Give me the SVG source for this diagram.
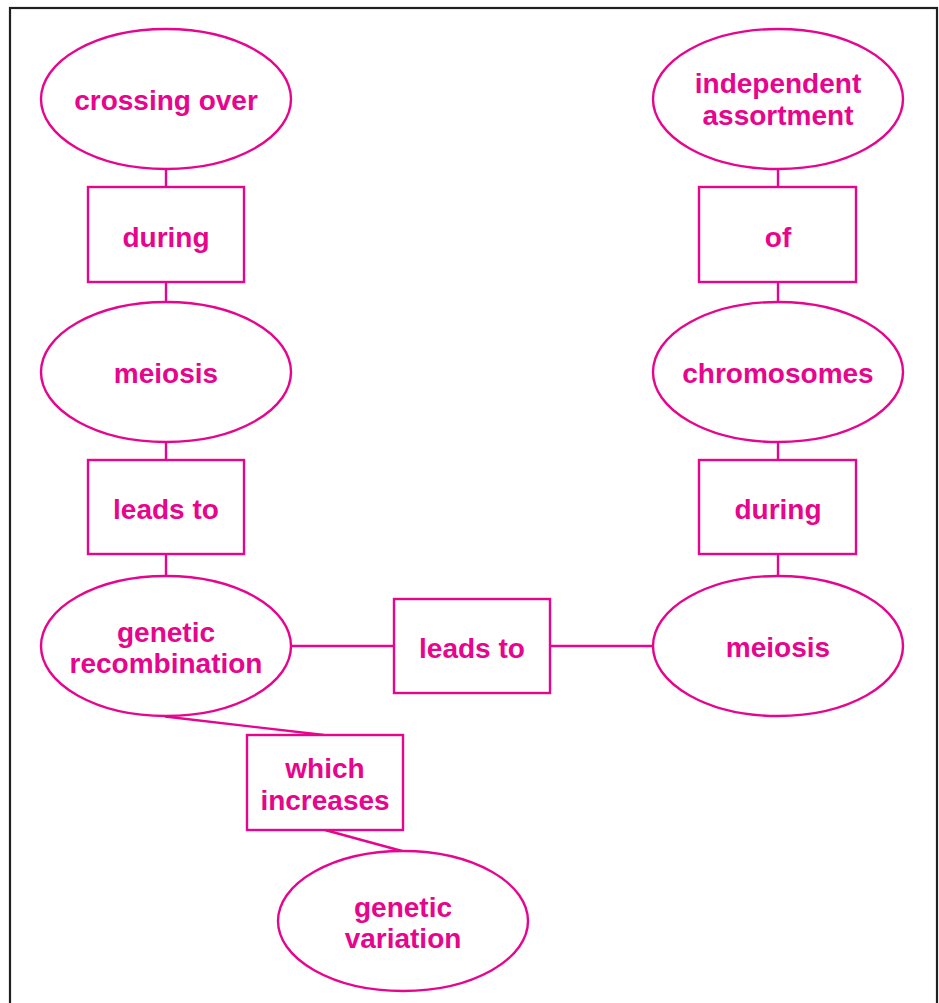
<svg xmlns="http://www.w3.org/2000/svg" width="939" height="1003" viewBox="0 0 939 1003">
<style>
.n{fill:#fff;stroke:#e6058c;stroke-width:2.4}
.t{font-family:"Liberation Sans",Arial,sans-serif;font-weight:bold;font-size:28px;fill:#e6058c;text-anchor:middle}
.c{stroke:#e6058c;stroke-width:2.4;fill:none}
</style>
<rect x="0" y="0" width="939" height="1003" fill="#fff"/>
<rect x="10" y="8" width="927" height="1010" fill="none" stroke="#231f20" stroke-width="2.2"/>
<g id="connectors">
<line class="c" x1="166" y1="169" x2="166" y2="187"/>
<line class="c" x1="166" y1="282" x2="166" y2="302"/>
<line class="c" x1="166" y1="442" x2="166" y2="460"/>
<line class="c" x1="166" y1="554" x2="166" y2="577"/>
<line class="c" x1="778" y1="169" x2="778" y2="187"/>
<line class="c" x1="778" y1="282" x2="778" y2="302"/>
<line class="c" x1="778" y1="442" x2="778" y2="460"/>
<line class="c" x1="778" y1="554" x2="778" y2="576"/>
<line class="c" x1="291" y1="646" x2="394" y2="646"/>
<line class="c" x1="550" y1="646" x2="653" y2="646"/>
<line class="c" x1="165" y1="716.5" x2="324" y2="735"/>
<line class="c" x1="325" y1="830" x2="402" y2="851"/>
</g>
<g id="crossing-over"><ellipse class="n" cx="166" cy="99" rx="125" ry="70"/><text class="t" x="166" y="110">crossing over</text></g>
<g id="during-left"><rect class="n" x="88" y="187" width="156" height="95"/><text class="t" x="166" y="247">during</text></g>
<g id="meiosis-left"><ellipse class="n" cx="166" cy="372" rx="125" ry="70"/><text class="t" x="166" y="383">meiosis</text></g>
<g id="leads-to-left"><rect class="n" x="88" y="460" width="156" height="94"/><text class="t" x="166" y="519">leads to</text></g>
<g id="genetic-recombination"><ellipse class="n" cx="166" cy="646" rx="125" ry="70"/><text class="t" x="166" y="642">genetic</text><text class="t" x="166" y="673">recombination</text></g>
<g id="independent-assortment"><ellipse class="n" cx="778" cy="99" rx="125" ry="70"/><text class="t" x="778" y="93">independent</text><text class="t" x="778" y="125">assortment</text></g>
<g id="of"><rect class="n" x="699" y="187" width="157" height="95"/><text class="t" x="778" y="247">of</text></g>
<g id="chromosomes"><ellipse class="n" cx="778" cy="372" rx="125" ry="70"/><text class="t" x="778" y="383">chromosomes</text></g>
<g id="during-right"><rect class="n" x="699" y="460" width="157" height="94"/><text class="t" x="778" y="519">during</text></g>
<g id="meiosis-right"><ellipse class="n" cx="778" cy="646" rx="125" ry="70"/><text class="t" x="778" y="657">meiosis</text></g>
<g id="leads-to-middle"><rect class="n" x="394" y="599" width="156" height="94"/><text class="t" x="472" y="658">leads to</text></g>
<g id="which-increases"><rect class="n" x="247" y="735" width="156" height="95"/><text class="t" x="325" y="778">which</text><text class="t" x="325" y="810">increases</text></g>
<g id="genetic-variation"><ellipse class="n" cx="403" cy="921" rx="125" ry="70"/><text class="t" x="403" y="917">genetic</text><text class="t" x="403" y="948">variation</text></g>
</svg>
